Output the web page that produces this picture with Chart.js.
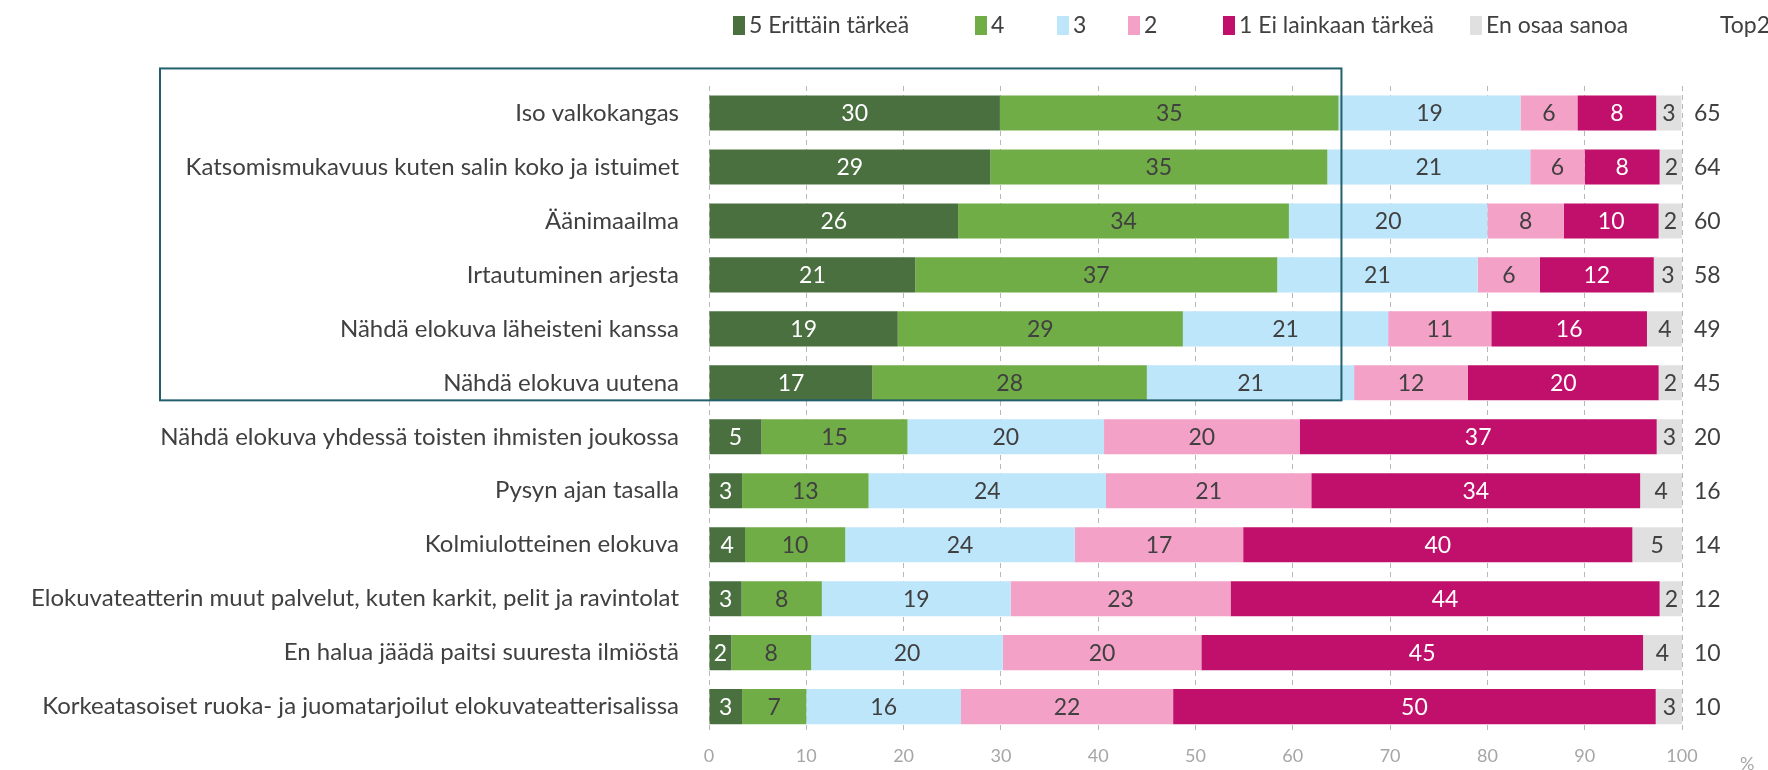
<!DOCTYPE html>
<html>
<head>
<meta charset="utf-8">
<script src="https://cdn.jsdelivr.net/npm/chart.js@4/dist/chart.umd.min.js"></script>
<style>
  html, body { margin: 0; padding: 0; background: #fff; }
  #wrap { width: 1768px; height: 770px; }
</style>
</head>
<body>
<div id="wrap"><canvas id="c"></canvas></div>
<script>
// Kategoriat ja sarjat (%), luettu kuvasta
var categories = [
  "Iso valkokangas",
  "Katsomismukavuus kuten salin koko ja istuimet",
  "Äänimaailma",
  "Irtautuminen arjesta",
  "Nähdä elokuva läheisteni kanssa",
  "Nähdä elokuva uutena",
  "Nähdä elokuva yhdessä toisten ihmisten joukossa",
  "Pysyn ajan tasalla",
  "Kolmiulotteinen elokuva",
  "Elokuvateatterin muut palvelut, kuten karkit, pelit ja ravintolat",
  "En halua jäädä paitsi suuresta ilmiöstä",
  "Korkeatasoiset ruoka- ja juomatarjoilut elokuvateatterisalissa"
];
var seriesNames = ["5 Erittäin tärkeä", "4", "3", "2", "1 Ei lainkaan tärkeä", "En osaa sanoa"];
var s5  = [29.9, 28.9, 25.6, 21.2, 19.4, 16.8, 5.4, 3.4, 3.7, 3.35, 2.3, 3.4];
var s4  = [34.8, 34.65, 34.0, 37.2, 29.3, 28.2, 15.0, 13.0, 10.3, 8.25, 8.2, 6.6];
var s3  = [18.7, 20.85, 20.4, 20.6, 21.1, 21.3, 20.2, 24.4, 23.6, 19.4, 19.7, 15.9];
var s2  = [5.85, 5.6, 7.85, 6.4, 10.6, 11.7, 20.1, 21.1, 17.3, 22.6, 20.4, 21.8];
var s1  = [8.1, 7.7, 9.75, 11.7, 16.0, 19.6, 36.7, 33.8, 40.0, 44.1, 45.4, 49.6];
var sEos = [2.6, 2.4, 2.4, 2.9, 3.7, 2.4, 2.6, 4.3, 5.1, 2.4, 4.0, 2.8];
var top2 = [65, 64, 60, 58, 49, 45, 20, 16, 14, 12, 10, 10];
var xTicks = [0, 10, 20, 30, 40, 50, 60, 70, 80, 90, 100];
var highlightRows = 6;     // kehystetyt rivit
var highlightEdge = 65;    // kehyksen oikea reuna (%)

var colors = ["#4a7040", "#70ad47", "#bde6fb", "#f4a1c8", "#c0106b", "#e0e0e0"];
var labelColors = ["#ffffff", "#404040", "#404040", "#404040", "#ffffff", "#404040"];
var FONT = "'Lato', sans-serif";
var TXT = "#404040";

var seriesData = [s5, s4, s3, s2, s1, sEos];
var datasets = seriesData.map(function (d, i) {
  return {
    label: seriesNames[i], data: d,
    backgroundColor: colors[i], borderWidth: 0,
    categoryPercentage: 0.65, barPercentage: 1
  };
});

// Arvot palkkien sisään, Top2 oikealle, kehys, legenda
var extras = {
  id: "extras",
  afterDatasetsDraw: function (chart) {
    var ctx = chart.ctx, x = chart.scales.x, y = chart.scales.y, area = chart.chartArea;
    ctx.save();
    ctx.font = "23px " + FONT;
    ctx.textAlign = "center";
    ctx.textBaseline = "middle";
    chart.data.datasets.forEach(function (ds, i) {
      chart.getDatasetMeta(i).data.forEach(function (bar, j) {
        ctx.fillStyle = labelColors[i];
        ctx.fillText(Math.round(ds.data[j]), (bar.x + bar.base) / 2, bar.y + 1);
      });
    });
    // Top2
    ctx.textAlign = "left";
    ctx.fillStyle = TXT;
    top2.forEach(function (v, j) {
      ctx.fillText(v, area.right + 12, y.getPixelForValue(j) + 1);
    });
    // kehys
    var half = chart.getDatasetMeta(0).data[0].height / 2;
    var top = y.getPixelForValue(0) - half - 27;
    var bottom = y.getPixelForValue(highlightRows - 1) + half;
    var right = x.getPixelForValue(highlightEdge);
    ctx.strokeStyle = "#23606e";
    ctx.lineWidth = 2;
    ctx.strokeRect(160, top, right - 160, bottom - top);
    // %-merkki
    ctx.fillStyle = "#a6a6a6";
    ctx.font = "18px " + FONT;
    ctx.fillText("%", area.right + 58, 764);
    ctx.restore();
  },
  afterDraw: function (chart) {
    var ctx = chart.ctx;
    var pos = [733, 975, 1057, 1128, 1223, 1470];
    ctx.save();
    ctx.font = "23px " + FONT;
    ctx.textBaseline = "middle";
    ctx.textAlign = "left";
    chart.data.datasets.forEach(function (ds, i) {
      ctx.fillStyle = ds.backgroundColor;
      ctx.fillRect(pos[i], 16, 12, 19);
      ctx.fillStyle = TXT;
      ctx.fillText(ds.label, pos[i] + 16, 26);
    });
    ctx.fillText("Top2", 1720, 26);
    ctx.restore();
  }
};

new Chart(document.getElementById("c"), {
  type: "bar",
  data: { labels: categories, datasets: datasets },
  options: {
    indexAxis: "y",
    responsive: true, maintainAspectRatio: false, animation: false,
    layout: { padding: { top: 86, right: 86, left: 0, bottom: 0 } },
    plugins: { legend: { display: false }, tooltip: { enabled: false } },
    scales: {
      x: {
        stacked: true, min: 0, max: 100,
        afterBuildTicks: function (s) { s.ticks = xTicks.map(function (v) { return { value: v }; }); },
        afterFit: function (s) { s.height = 36; },
        grid: { color: "#b8b8b8", drawTicks: false, lineWidth: 1 },
        border: { display: false, dash: [5, 4] },
        ticks: { padding: 12, color: "#a6a6a6", font: { family: FONT, size: 18 } }
      },
      y: {
        stacked: true,
        afterFit: function (s) { s.width = 709; },
        grid: { display: false },
        border: { display: false },
        ticks: { padding: 22, color: TXT, font: { family: FONT, size: 24 } }
      }
    }
  },
  plugins: [extras]
});
</script>
</body>
</html>
